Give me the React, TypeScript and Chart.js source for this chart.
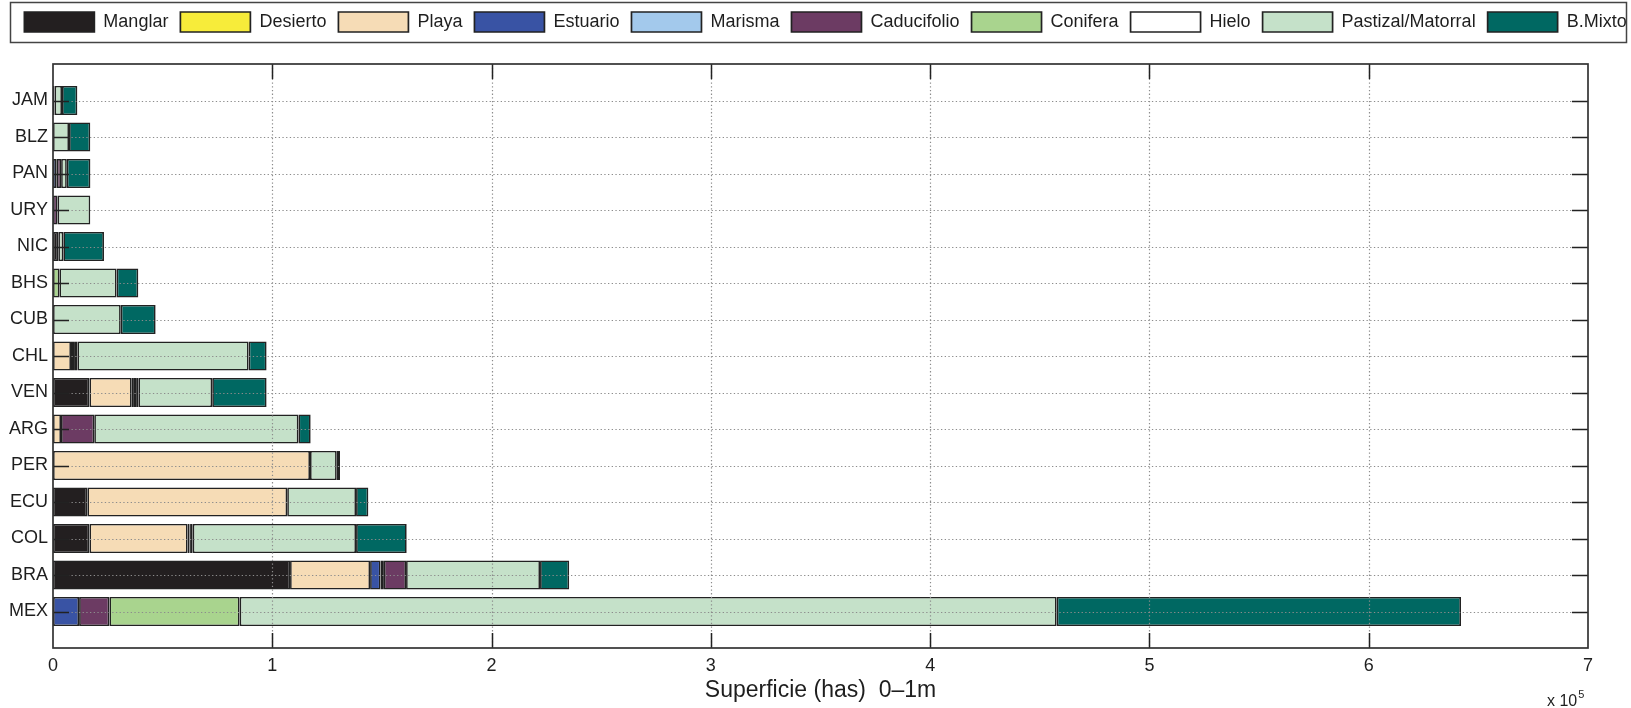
import React, { useEffect, useRef } from 'react';
import { Chart, registerables } from 'chart.js';
Chart.register(...registerables);

// Categories, top to bottom
const countries = ['JAM', 'BLZ', 'PAN', 'URY', 'NIC', 'BHS', 'CUB', 'CHL', 'VEN', 'ARG', 'PER', 'ECU', 'COL', 'BRA', 'MEX'];

const seriesNames = ['Manglar', 'Desierto', 'Playa', 'Estuario', 'Marisma', 'Caducifolio', 'Conifera', 'Hielo', 'Pastizal/Matorral', 'B.Mixto'];
const seriesColors = ['#231f20', '#f7ec3a', '#f6dcb6', '#3953a4', '#a3c9ec', '#6c3b63', '#a9d48e', '#ffffff', '#c5e1c9', '#006862'];

// Values in hectares, same order as countries
const manglar = [700, 0, 0, 0, 2400, 0, 0, 0, 16600, 0, 0, 15650, 16600, 108100, 0];
const desierto = [0, 0, 0, 0, 0, 0, 0, 0, 0, 0, 0, 0, 0, 0, 0];
const playa = [0, 0, 0, 0, 0, 0, 0, 8200, 19300, 3650, 117200, 91150, 44800, 36500, 0];
const estuario = [0, 0, 1700, 0, 0, 0, 0, 0, 1000, 0, 0, 0, 800, 4800, 11900];
const marisma = [0, 0, 0, 0, 0, 0, 0, 0, 1000, 0, 0, 0, 700, 1500, 0];
const caducifolio = [0, 0, 2000, 2100, 0, 0, 0, 1400, 1000, 15150, 0, 0, 800, 10100, 13800];
const conifera = [0, 0, 0, 0, 0, 2900, 0, 1500, 0, 0, 0, 0, 0, 0, 59400];
const hielo = [0, 0, 0, 0, 0, 0, 0, 0, 0, 0, 0, 0, 0, 0, 0];
const pastizal = [3400, 7300, 2600, 14900, 2300, 26100, 30900, 78100, 33700, 93100, 12200, 31400, 74500, 61100, 372600];
const bMixto = [7000, 9700, 10750, 0, 18550, 9900, 15900, 8200, 24800, 5600, 1500, 5600, 23100, 13300, 184400];

const seriesValues = [manglar, desierto, playa, estuario, marisma, caducifolio, conifera, hielo, pastizal, bMixto];

// x axis ticks (in units of 10^5 ha)
const xTickValues = [0, 1, 2, 3, 4, 5, 6, 7];
const xScaleFactor = 100000;
const xTitle = 'Superficie (has)  0\u20131m';
const xExponentBase = 'x 10';
const xExponent = '5';

const FONT = "'Liberation Sans', Arial, Helvetica, sans-serif";
const TEXT = '#1e1e1e';

// padded category labels (blank slot above and below, like the source plot's limits)
const labels = ['', ...countries, ''];

const LEGEND_SHIFT = 10;

const overlayPlugin = {
  id: 'overlay',
  afterLayout(chart: any) {
    const lg = chart.legend;
    if (lg) {
      lg.left += LEGEND_SHIFT;
      lg.right += LEGEND_SHIFT;
    }
  },
  afterDatasetsDraw(chart: any) {
    const { ctx, chartArea: a, scales } = chart;
    const x = scales.x;
    const y = scales.y;
    ctx.save();
    // dotted grid on top of bars
    ctx.strokeStyle = '#8c8c8c';
    ctx.lineWidth = 1.2;
    ctx.setLineDash([1.3, 2.4]);
    xTickValues.forEach((v) => {
      const val = v * xScaleFactor;
      if (val <= x.min || val >= x.max) return;
      const px = Math.round(x.getPixelForValue(val)) + 0.5;
      ctx.beginPath();
      ctx.moveTo(px, a.top);
      ctx.lineTo(px, a.bottom);
      ctx.stroke();
    });
    countries.forEach((c) => {
      const py = Math.round(y.getPixelForValue(labels.indexOf(c))) + 0.5;
      ctx.beginPath();
      ctx.moveTo(a.left, py);
      ctx.lineTo(a.right, py);
      ctx.stroke();
    });
    // inward tick marks
    ctx.setLineDash([]);
    ctx.strokeStyle = '#222';
    ctx.lineWidth = 1.5;
    xTickValues.forEach((v) => {
      const val = v * xScaleFactor;
      if (val <= x.min || val >= x.max) return;
      const px = Math.round(x.getPixelForValue(val)) + 0.5;
      ctx.beginPath();
      ctx.moveTo(px, a.bottom);
      ctx.lineTo(px, a.bottom - 15);
      ctx.moveTo(px, a.top);
      ctx.lineTo(px, a.top + 15);
      ctx.stroke();
    });
    countries.forEach((c) => {
      const py = Math.round(y.getPixelForValue(labels.indexOf(c))) + 0.5;
      ctx.beginPath();
      ctx.moveTo(a.left, py);
      ctx.lineTo(a.left + 16, py);
      ctx.moveTo(a.right, py);
      ctx.lineTo(a.right - 16, py);
      ctx.stroke();
    });
    // frame
    ctx.strokeStyle = '#333';
    ctx.lineWidth = 1.7;
    ctx.strokeRect(a.left, a.top, a.right - a.left, a.bottom - a.top);
    ctx.restore();
  },
  afterDraw(chart: any) {
    const { ctx, chartArea: a } = chart;
    const lg = chart.legend;
    ctx.save();
    // legend frame
    ctx.strokeStyle = '#444';
    ctx.lineWidth = 1.5;
    const l0 = lg.left - LEGEND_SHIFT;
    ctx.strokeRect(l0 + 10.5, lg.top + 2.5, chart.width - 15, 40);
    // exponent label
    ctx.fillStyle = TEXT;
    ctx.font = `16px ${FONT}`;
    ctx.textBaseline = 'alphabetic';
    ctx.textAlign = 'left';
    const bx = a.right - 41;
    const by = chart.height - 2;
    ctx.fillText(xExponentBase, bx, by);
    const w = ctx.measureText(xExponentBase).width;
    ctx.font = `11px ${FONT}`;
    ctx.fillText(xExponent, bx + w + 1, by - 8);
    ctx.restore();
  },
};

export default function App() {
  const canvasRef = useRef<HTMLCanvasElement | null>(null);

  useEffect(() => {
    if (!canvasRef.current) return;
    const datasets = seriesNames.map((name, i) => ({
      label: name,
      data: [null, ...seriesValues[i], null],
      backgroundColor: seriesColors[i],
      borderColor: '#222',
      borderWidth: 1.7,
      borderSkipped: false as const,
      categoryPercentage: 1,
      barPercentage: 0.8,
      stack: 'all',
    }));

    const chart = new Chart(canvasRef.current, {
      type: 'bar',
      data: { labels, datasets: datasets as any },
      options: {
        indexAxis: 'y',
        animation: false,
        responsive: false,
        maintainAspectRatio: false,
        layout: { padding: 0 },
        plugins: {
          tooltip: { enabled: false },
          legend: {
            position: 'top',
            labels: {
              boxWidth: 70,
              boxHeight: 20,
              padding: 12,
              color: TEXT,
              font: { family: FONT, size: 18 },
            },
          },
        },
        scales: {
          x: {
            type: 'linear',
            position: 'bottom',
            stacked: true,
            min: 0,
            max: 7 * xScaleFactor,
            grid: { display: false, drawTicks: false },
            border: { display: false },
            ticks: {
              stepSize: xScaleFactor,
              padding: 7,
              color: TEXT,
              font: { family: FONT, size: 18 },
              callback: (v: any) => String(Number(v) / xScaleFactor),
            },
            title: {
              display: true,
              text: xTitle,
              color: TEXT,
              font: { family: FONT, size: 23 },
              padding: { top: 0, bottom: 4 },
            },
            afterFit: (s: any) => {
              s.height = 60;
            },
          },
          xTop: {
            type: 'linear',
            position: 'top',
            display: true,
            grid: { display: false, drawTicks: false },
            border: { display: false },
            ticks: { display: false },
            afterFit: (s: any) => {
              s.height = 22;
            },
          },
          y: {
            type: 'category',
            position: 'left',
            stacked: true,
            offset: false,
            grid: { display: false, drawTicks: false },
            border: { display: false },
            ticks: {
              autoSkip: false,
              padding: 5,
              color: TEXT,
              font: { family: FONT, size: 18 },
            },
            afterFit: (s: any) => {
              s.width = 53;
            },
          },
          yRight: {
            type: 'linear',
            position: 'right',
            display: true,
            grid: { display: false, drawTicks: false },
            border: { display: false },
            ticks: { display: false },
            afterFit: (s: any) => {
              s.width = 43;
            },
          },
        },
      } as any,
      plugins: [overlayPlugin],
    });
    return () => chart.destroy();
  }, []);

  return (
    <div style={{ position: 'absolute', left: 0, top: 0, width: 1631, height: 708, background: '#fff' }}>
      <canvas ref={canvasRef} width={1631} height={708} style={{ display: 'block' }} />
    </div>
  );
}
